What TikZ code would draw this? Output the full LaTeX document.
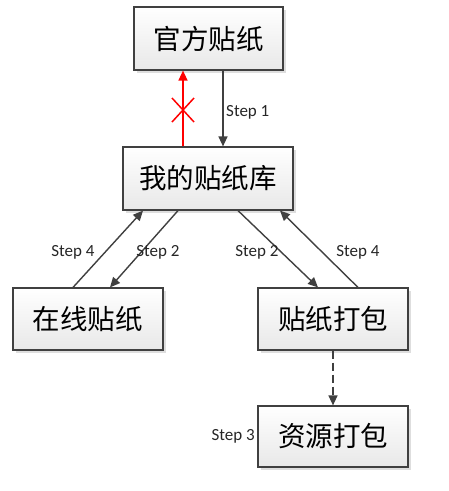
\documentclass[tikz,border=0pt]{standalone}
\usepackage{fontspec}
\setmainfont{Carlito}
\newfontfamily\cjk{Noto Sans CJK SC}
\usetikzlibrary{arrows.meta,shadows,calc}
\definecolor{edge}{HTML}{404040}
\tikzset{
  box/.style={draw=edge, line width=1.2pt, rectangle, top color=white, bottom color=black!9,
    general shadow={fill=black!13, shadow xshift=3pt, shadow yshift=-3pt},
    minimum width=150pt, minimum height=62pt, inner sep=0pt, font=\cjk\fontsize{27.5}{28}\selectfont},
  conn/.style={draw=edge, line width=1.4pt, -{Triangle[length=10pt,width=9pt]}},
  blocked/.style={draw=red, line width=1.5pt, -{Triangle[length=10pt,width=9pt]}},
  steplabel/.style={font=\fontsize{17}{18}\selectfont, text=black!85, inner sep=0pt}
}
\begin{document}
\begin{tikzpicture}[x=1pt,y=-1pt]
\useasboundingbox (0,0) rectangle (449,491);
\node[box, minimum width=149pt, minimum height=63pt] (top) at (208.5,38.5) {官方贴纸};
\node[box, minimum width=170pt, minimum height=63pt] (lib) at (208,178.5) {我的贴纸库};
\node[box] (online) at (88,319) {在线贴纸};
\node[box] (pack) at (333,319) {贴纸打包};
\node[box, minimum height=61pt] (res) at (333,436.5) {资源打包};
% red blocked arrow
\draw[blocked] ([xshift=-25pt]lib.north) -- ([xshift=-25.5pt]top.south);
\coordinate (xm) at (183,110);
\draw[red, line width=1.5pt] ($(xm)+(-11,-12)$) -- ($(xm)+(11,12)$);
\draw[red, line width=1.5pt] ($(xm)+(11,-12)$) -- ($(xm)+(-11,12)$);
% step 1
\draw[conn] ([xshift=14.5pt]top.south) -- ([xshift=15pt]lib.north);
\node[steplabel, anchor=west] (s1) at (226,112) {Step 1};
% left pair
\draw[conn] ([xshift=-15pt]online.north) -- ([xshift=-65pt]lib.south);
\draw[conn] ([xshift=-30pt]lib.south) -- ([xshift=22pt]online.north);
\node[steplabel] (s4l) at (73,252) {Step 4};
\node[steplabel] (s2l) at (158,252) {Step 2};
% right pair
\draw[conn] ([xshift=30pt]lib.south) -- ([xshift=-15pt]pack.north);
\draw[conn] ([xshift=25pt]pack.north) -- ([xshift=72pt]lib.south);
\node[steplabel] (s2r) at (257,252) {Step 2};
\node[steplabel] (s4r) at (358,252) {Step 4};
% dashed
\draw[conn, dash pattern=on 8pt off 4pt] (pack.south) -- (res.north);
\node[steplabel, anchor=east] (s3) at (255,436) {Step 3};
\end{tikzpicture}
\end{document}
